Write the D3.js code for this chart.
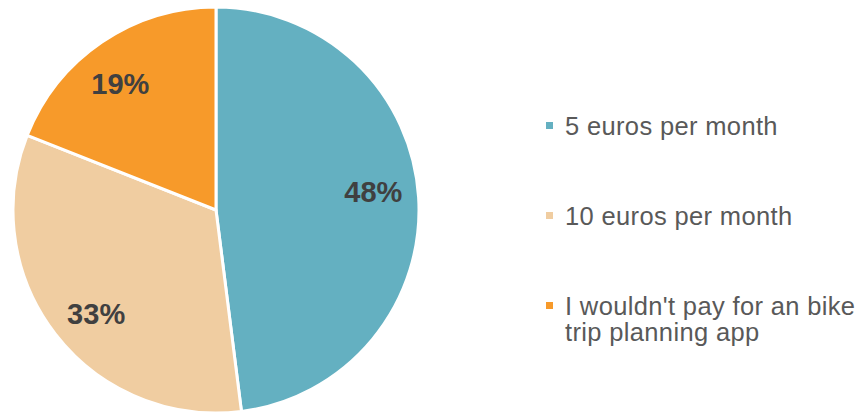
<!DOCTYPE html>
<html>
<head>
<meta charset="utf-8">
<script src="https://cdn.jsdelivr.net/npm/d3@7/dist/d3.min.js"></script>
<style>
  html, body { margin: 0; padding: 0; background: #ffffff; }
  svg { display: block; }
</style>
</head>
<body>
<svg id="chart" width="861" height="412"></svg>
<script>
// Survey answers: willingness to pay for a bike trip planning app
const categories = ["5 euros per month", "10 euros per month", "I wouldn't pay for an bike trip planning app"];
const legendLines = [["5 euros per month"], ["10 euros per month"], ["I wouldn't pay for an bike", "trip planning app"]];
const shares = [48, 33, 19];
const colors = ["#64B0C1", "#F0CDA1", "#F79A2A"];

const svg = d3.select("#chart");
const cx = 216, cy = 210, radius = 203;

const pie = d3.pie().sort(null).value(d => d.value);
const arcs = pie(categories.map((c, i) => ({ name: c, value: shares[i], color: colors[i] })));

const arc = d3.arc().innerRadius(0).outerRadius(radius);

const g = svg.append("g").attr("transform", `translate(${cx},${cy})`);

g.selectAll("path.slice")
  .data(arcs)
  .join("path")
  .attr("class", "slice")
  .attr("d", arc)
  .attr("fill", d => d.data.color)
  .attr("stroke", "#ffffff")
  .attr("stroke-width", 3)
  .attr("stroke-linejoin", "round");

// Percent labels sit inside each slice, nudged slightly counter-clockwise
const labelR = radius * 0.78;
const labelShift = -3 * Math.PI / 180;
function labelPos(d) {
  const a = (d.startAngle + d.endAngle) / 2 + labelShift;
  return [labelR * Math.sin(a), -labelR * Math.cos(a)];
}

g.selectAll("text.pct")
  .data(arcs)
  .join("text")
  .attr("class", "pct")
  .attr("transform", d => `translate(${labelPos(d)})`)
  .attr("text-anchor", "middle")
  .attr("dy", "0.36em")
  .attr("font-family", "Liberation Sans, Arial, sans-serif")
  .attr("font-weight", "bold")
  .attr("font-size", 29)
  .attr("fill", "#404040")
  .text(d => d.data.value + "%");

// Legend
const legendY = d3.scalePoint().domain(categories).range([125, 305]);
const legend = svg.append("g").attr("transform", "translate(546,0)");
const items = legend.selectAll("g.item")
  .data(categories)
  .join("g")
  .attr("class", "item")
  .attr("transform", d => `translate(0,${legendY(d)})`);

items.append("rect")
  .attr("x", 0).attr("y", -3)
  .attr("width", 7).attr("height", 7)
  .attr("fill", (d, i) => colors[i]);

items.append("text")
  .attr("font-family", "Liberation Sans, Arial, sans-serif")
  .attr("font-size", 25.5)
  .attr("letter-spacing", 0.35)
  .attr("fill", "#595959")
  .selectAll("tspan")
  .data((d, i) => legendLines[i])
  .join("tspan")
  .attr("x", 19)
  .attr("y", (d, j) => 10 + j * 26)
  .text(d => d);
</script>
</body>
</html>
